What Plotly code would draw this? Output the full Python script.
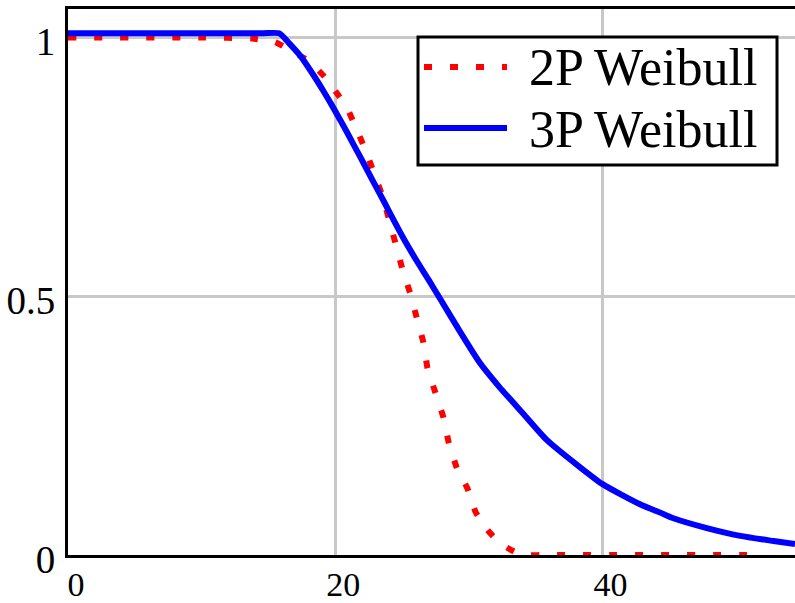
import plotly.graph_objects as go

# 2P Weibull (red, dotted)
x_2p = [0, 10.0, 13.8, 15.5, 16.6, 18.1, 19.2, 20.1, 20.9, 21.5, 22.2, 22.9, 23.55, 24.1, 24.6,
        25.05, 25.6, 26.1, 26.6, 26.9, 27.5, 28.1, 28.5, 29.1, 29.9, 30.5, 31.4, 32.3, 33.5, 34.1, 36.0, 52.0]
y_2p = [1.0, 1.0, 0.998, 0.991, 0.976, 0.953, 0.924, 0.893, 0.863, 0.828, 0.786, 0.738, 0.692, 0.641, 0.593,
        0.55, 0.506, 0.458, 0.41, 0.361, 0.313, 0.265, 0.216, 0.168, 0.128, 0.083, 0.048, 0.023, 0.005, 0.0, 0.0, 0.0]

# 3P Weibull (blue, solid)
x_3p = [0, 10.0, 14.5, 15.8, 16.5, 17.4, 18.4, 19.1, 19.9, 20.6, 21.35, 22.1, 22.85, 23.6, 24.35, 25.1, 26.1,
        27.0, 27.8, 29.3, 30.8, 32.3, 33.3, 34.1, 35.8, 38.3, 40.0, 42.8, 44.3, 45.3, 47.8, 50.3, 52.8, 54.4]
y_3p = [1.008, 1.008, 1.008, 1.008, 0.99, 0.964, 0.926, 0.897, 0.862, 0.83, 0.794, 0.758, 0.721, 0.685, 0.648, 0.612, 0.568,
        0.531, 0.497, 0.433, 0.372, 0.324, 0.295, 0.272, 0.223, 0.17, 0.137, 0.098, 0.082, 0.071, 0.052, 0.037, 0.027, 0.021]

x_ticks = [0, 20, 40]
y_ticks = [0, 0.5, 1]
y_tick_text = ["0", "0.5", "1"]
legend_names = ["2P Weibull", "3P Weibull"]
colors = ["#ff0000", "#0000ff"]

FONT = "Liberation Serif, Times New Roman, DejaVu Serif, serif"

# plot-area geometry in pixels (used for placing the hand-made legend)
L, T, W, H = 68, 9, 727, 546


def px_x(p):
    return (p - L) / W


def px_y(p):
    return (T + H - p) / H


fig = go.Figure()
fig.add_trace(go.Scatter(x=x_2p, y=y_2p, mode="lines", name=legend_names[0],
                         line=dict(color=colors[0], width=6, dash="8px,18px",
                                   shape="spline", smoothing=0.4)))
fig.add_trace(go.Scatter(x=x_3p, y=y_3p, mode="lines", name=legend_names[1],
                         line=dict(color=colors[1], width=6, shape="spline", smoothing=0.6)))

# legend box, sample lines and labels
shapes = [dict(type="rect", xref="paper", yref="paper", layer="above",
               x0=px_x(418), x1=px_x(777), y0=px_y(165), y1=px_y(37),
               line=dict(color="black", width=3), fillcolor="white")]
annotations = []
row_y = [67, 128]
dashes = ["8px,18px", "solid"]
for name, c, ry, d in zip(legend_names, colors, row_y, dashes):
    shapes.append(dict(type="line", xref="paper", yref="paper", layer="above",
                       x0=px_x(424), x1=px_x(507), y0=px_y(ry), y1=px_y(ry),
                       line=dict(color=c, width=6, dash=d)))
    annotations.append(dict(text=name, xref="paper", yref="paper", x=px_x(527), y=px_y(ry + 1),
                            xanchor="left", yanchor="middle", showarrow=False,
                            font=dict(family=FONT, size=52, color="black")))

fig.update_layout(
    width=795, height=603,
    margin=dict(l=L, r=0, t=T, b=603 - T - H, autoexpand=False),
    paper_bgcolor="white", plot_bgcolor="white",
    font=dict(family=FONT, color="black"),
    showlegend=False,
    shapes=shapes, annotations=annotations,
    xaxis=dict(range=[0, 54.4], tickvals=x_ticks, ticktext=[str(v) for v in x_ticks],
               showgrid=True, gridcolor="#c8c8c8", gridwidth=3, zeroline=False,
               showline=True, linecolor="black", linewidth=3, mirror=True, automargin=False,
               ticks="", ticklen=0, tickfont=dict(family=FONT, size=34, color="black"),
               ticklabelshift=8, ticklabelstandoff=-3),
    yaxis=dict(range=[0, 1.055], tickvals=y_ticks, ticktext=y_tick_text,
               showgrid=True, gridcolor="#c8c8c8", gridwidth=3, zeroline=False,
               showline=True, linecolor="black", linewidth=3, mirror=False, automargin=False,
               ticks="", ticklen=0, tickfont=dict(family=FONT, size=39, color="black"),
               ticklabelshift=4, ticklabelstandoff=2),
)

fig.write_html("out.html")
